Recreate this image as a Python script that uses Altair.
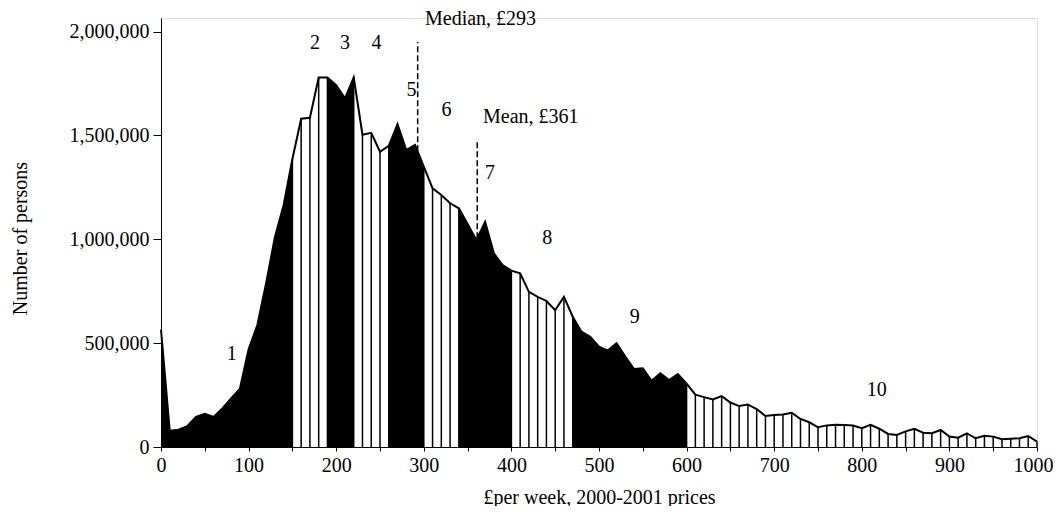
import altair as alt
import pandas as pd

# £ per week (bin start, £10 bins) and number of persons
income = list(range(0, 1001, 10))
persons = [
    565000, 78000, 83000, 100000, 145000, 160000, 145000, 186000, 234000, 279000,
    470000, 587000, 788000, 1010000, 1165000, 1386000, 1580000, 1585000, 1779000, 1779000,
    1742000, 1678000, 1779000, 1503000, 1512000, 1421000, 1450000, 1554000, 1429000, 1454000,
    1350000, 1245000, 1213000, 1173000, 1149000, 1073000, 996000, 1084000, 932000, 876000,
    849000, 836000, 747000, 723000, 703000, 659000, 723000, 627000, 555000, 531000,
    483000, 464000, 499000, 435000, 375000, 379000, 319000, 355000, 322000, 351000,
    305000, 252000, 240000, 229000, 245000, 214000, 197000, 204000, 183000, 149000,
    154000, 157000, 165000, 135000, 119000, 95000, 104000, 107000, 106000, 103000,
    91000, 107000, 88000, 63000, 58000, 75000, 88000, 69000, 66000, 82000,
    50000, 45000, 66000, 42000, 54000, 50000, 37000, 40000, 42000, 53000,
    26000,
]

# decile band edges (£ per week) and labels
decile_edges = [0, 150, 190, 220, 260, 300, 340, 400, 470, 600, 1000]
decile_names = ["1", "2", "3", "4", "5", "6", "7", "8", "9", "10"]
decile_label_x = [80.7, 175.8, 210, 246, 286, 326, 375.6, 441, 540.7, 817]
decile_label_y = [447600, 1943000, 1943000, 1943000, 1718000, 1622000, 1317000, 1004000, 627000, 274000]

# median / mean markers
stat_names = ["Median, £293", "Mean, £361"]
stat_values = [293, 361]
stat_low = [1423000, 1005000]
stat_high = [1949000, 1482000]
stat_label_x = [301.4, 367.6]
stat_label_y = [2060000, 1588000]

FONT = "Liberation Serif"
FS = 20
Y_MAX = 2065000

base = pd.DataFrame({"income": income, "persons": persons})
lookup = dict(zip(income, persons))

black_rows, stripe_rows = [], []
for i in range(10):
    lo, hi = decile_edges[i], decile_edges[i + 1]
    xs = [v for v in income if lo <= v <= hi]
    for v in xs:
        if i % 2 == 0:
            black_rows.append({"income": v, "persons": lookup[v], "band": decile_names[i]})
        else:
            stripe_rows.append({"income": v, "persons": lookup[v], "zero": 0})
black_df = pd.DataFrame(black_rows)
stripe_df = pd.DataFrame(stripe_rows)

xscale = alt.Scale(domain=[0, 1000], nice=False, zero=False)
yscale = alt.Scale(domain=[0, Y_MAX], nice=False)

x_axis = alt.Axis(
    values=list(range(0, 1001, 50)),
    labelExpr="datum.value % 100 == 0 ? format(datum.value, 'd') : ''",
    labelOffset={"condition": {"test": "datum.value == 1000", "value": -4}, "value": 0},
    grid=False, tickSize=4, tickColor="black", domainColor="black",
    labelFont=FONT, labelFontSize=FS, labelColor="black", labelPadding=4,
    title="£per week, 2000-2001 prices", titleFont=FONT, titleFontSize=FS,
    titleFontWeight="normal", titleColor="black",
    titleX=438, titleY=50, titleBaseline="middle", titleAlign="center",
    labelFlush=False,
)
y_axis = alt.Axis(
    values=[0, 500000, 1000000, 1500000, 2000000],
    labelExpr="format(datum.value, ',')",
    grid=False, tickSize=8, tickColor="black", domainColor="black",
    labelFont=FONT, labelFontSize=FS, labelColor="black", labelPadding=4,
    title="Number of persons", titleFont=FONT, titleFontSize=FS,
    titleFontWeight="normal", titleColor="black",
    titleX=-141, titleY=220, titleAngle=270, titleBaseline="middle", titleAlign="center",
)

X = alt.X("income:Q", scale=xscale, axis=x_axis)
Y = alt.Y("persons:Q", scale=yscale, axis=y_axis, stack=None)

areas = alt.Chart(black_df).mark_area(color="black", fill="black", opacity=1,
                                      interpolate="linear").encode(
    x=X, y=Y, detail="band:N"
)

stripes = alt.Chart(stripe_df).mark_rule(color="black", strokeWidth=1.5).encode(
    x="income:Q", y="zero:Q", y2="persons:Q"
)

outline = alt.Chart(base).mark_line(color="black", strokeWidth=2).encode(
    x="income:Q", y=alt.Y("persons:Q", stack=None), order="income:Q"
)

stat_df = pd.DataFrame({"name": stat_names, "value": stat_values, "low": stat_low,
                        "high": stat_high, "lx": stat_label_x, "ly": stat_label_y})
stat_rules = alt.Chart(stat_df).mark_rule(color="black", strokeWidth=1.5, strokeDash=[6, 3]).encode(
    x="value:Q", y="low:Q", y2="high:Q"
)
stat_text = alt.Chart(stat_df).mark_text(
    font=FONT, fontSize=FS, align="left", baseline="middle", color="black"
).encode(x="lx:Q", y="ly:Q", text="name:N")

dec_df = pd.DataFrame({"name": decile_names, "x": decile_label_x, "y": decile_label_y})
dec_text = alt.Chart(dec_df).mark_text(
    font=FONT, fontSize=FS, align="center", baseline="middle", color="black"
).encode(x="x:Q", y="y:Q", text="name:N")

chart = alt.layer(areas, stripes, outline, stat_rules, stat_text, dec_text).properties(
    width=876, height=429,
    padding={"left": 153, "top": 10, "right": 16, "bottom": 59},
    autosize=alt.AutoSizeParams(type="none"),
).configure_view(stroke=None).configure(background="white")

chart.save("out.html", embed_options={"renderer": "svg", "actions": False})
